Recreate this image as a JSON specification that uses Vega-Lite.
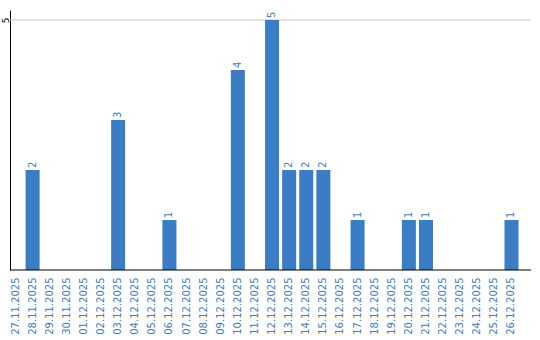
{
  "$schema": "https://vega.github.io/schema/vega-lite/v6.json",
  "width": 521,
  "height": 260,
  "autosize": {"type": "none"},
  "padding": {"left": 10, "top": 10, "right": 9, "bottom": 70},
  "background": "white",
  "config": {"view": {"stroke": null}, "font": "DejaVu Sans"},
  "data": {"values": [
    {"date": "27.11.2025", "count": 0},
    {"date": "28.11.2025", "count": 2},
    {"date": "29.11.2025", "count": 0},
    {"date": "30.11.2025", "count": 0},
    {"date": "01.12.2025", "count": 0},
    {"date": "02.12.2025", "count": 0},
    {"date": "03.12.2025", "count": 3},
    {"date": "04.12.2025", "count": 0},
    {"date": "05.12.2025", "count": 0},
    {"date": "06.12.2025", "count": 1},
    {"date": "07.12.2025", "count": 0},
    {"date": "08.12.2025", "count": 0},
    {"date": "09.12.2025", "count": 0},
    {"date": "10.12.2025", "count": 4},
    {"date": "11.12.2025", "count": 0},
    {"date": "12.12.2025", "count": 5},
    {"date": "13.12.2025", "count": 2},
    {"date": "14.12.2025", "count": 2},
    {"date": "15.12.2025", "count": 2},
    {"date": "16.12.2025", "count": 0},
    {"date": "17.12.2025", "count": 1},
    {"date": "18.12.2025", "count": 0},
    {"date": "19.12.2025", "count": 0},
    {"date": "20.12.2025", "count": 1},
    {"date": "21.12.2025", "count": 1},
    {"date": "22.12.2025", "count": 0},
    {"date": "23.12.2025", "count": 0},
    {"date": "24.12.2025", "count": 0},
    {"date": "25.12.2025", "count": 0},
    {"date": "26.12.2025", "count": 1}
  ]},
  "encoding": {
    "x": {
      "field": "date", "type": "ordinal", "sort": null,
      "scale": {"range": [-1.5, 508.5], "paddingInner": 0.18, "paddingOuter": 0},
      "axis": {
        "title": null, "domain": false, "ticks": false,
        "labelAngle": 270, "labelAlign": "right", "labelBaseline": "middle",
        "labelPadding": 7, "labelFontSize": 10, "labelColor": "#3c7dc4",
        "labelFont": "DejaVu Sans"
      }
    },
    "y": {
      "field": "count", "type": "quantitative",
      "scale": {"domain": [0, 5.2], "nice": false},
      "axis": {
        "title": null, "values": [5], "ticks": false, "grid": false,
        "domainColor": "black", "domainWidth": 1,
        "labelAngle": 270, "labelAlign": "center", "labelBaseline": "middle",
        "labelPadding": 5, "labelFontSize": 9, "labelColor": "black",
        "labelFont": "DejaVu Sans"
      }
    }
  },
  "layer": [
    {
      "data": {"values": [{"g": 5}]},
      "mark": {"type": "rule", "color": "#c8c8c8", "strokeWidth": 1},
      "encoding": {"y": {"field": "g", "type": "quantitative"}, "x": null}
    },
    {"mark": {"type": "bar", "color": "#3a7dc4"}},
    {
      "transform": [{"filter": "datum.count > 0"}],
      "mark": {"type": "text", "angle": 270, "align": "left", "baseline": "middle", "dx": 2, "fontSize": 10, "color": "#3c7dc4", "font": "DejaVu Sans"},
      "encoding": {"text": {"field": "count", "type": "quantitative"}}
    },
    {
      "data": {"values": [{"base": 0}]},
      "mark": {"type": "rule", "color": "black", "strokeWidth": 1},
      "encoding": {"y": {"field": "base", "type": "quantitative"}, "x": null}
    }
  ]
}
